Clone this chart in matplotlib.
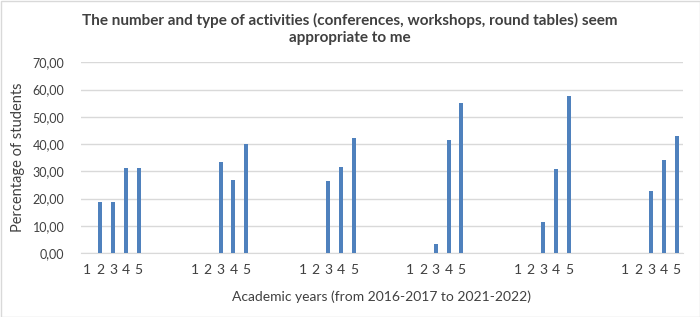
import matplotlib.pyplot as plt
import matplotlib.ticker as ticker
from matplotlib.patches import Rectangle

plt.rcParams["font.family"] = ["Lato", "DejaVu Sans"]

# answers 1..5 for each academic year (2016-2017 ... 2021-2022), % of students
answers = [1, 2, 3, 4, 5]
year_2016 = [0, 18.75, 18.75, 31.25, 31.25]
year_2017 = [0, 0, 33.33, 26.67, 40.00]
year_2018 = [0, 0, 26.32, 31.58, 42.11]
year_2019 = [0, 0, 3.45, 41.38, 55.17]
year_2020 = [0, 0, 11.54, 30.77, 57.69]
year_2021 = [0, 0, 22.86, 34.29, 42.86]
years = [year_2016, year_2017, year_2018, year_2019, year_2020, year_2021]

title = "The number and type of activities (conferences, workshops, round tables) seem\nappropriate to me"
y_ticks = [0, 10, 20, 30, 40, 50, 60, 70]

group_step = 8.4
bar_color = "#4F81BD"
text_color = "#404040"

fig = plt.figure(figsize=(7.0, 3.17), dpi=100)
ax = fig.add_axes([81 / 700, 1 - 253 / 317, 602 / 700, (253 - 62.3) / 317])

positions = []
labels = []
for g, vals in enumerate(years):
    xs = [g * group_step + (a - 1) for a in answers]
    ax.bar(xs, vals, width=0.31, color=bar_color, zorder=3)
    positions += xs
    labels += [str(a) for a in answers]

ax.set_xlim(-0.5, 5 * group_step + 4.5)
ax.set_ylim(0, 70)
ax.set_yticks(y_ticks)
ax.yaxis.set_major_formatter(ticker.FuncFormatter(lambda v, p: f"{v:.2f}".replace(".", ",")))
ax.set_xticks(positions)
ax.set_xticklabels(labels)

ax.grid(axis="y", color="#D9D9D9", linewidth=1, zorder=0)
for s in ["top", "right", "left"]:
    ax.spines[s].set_visible(False)
ax.spines["bottom"].set_color("#D9D9D9")
ax.tick_params(axis="both", length=0, colors=text_color)
ax.tick_params(axis="x", pad=8, labelsize=10)
ax.tick_params(axis="y", pad=12, labelsize=9)

ax.set_ylabel("Percentage of students", fontsize=10.5, color=text_color)
ax.yaxis.set_label_coords(-56 / 602, 0.5)
ax.set_xlabel("Academic years (from 2016-2017 to 2021-2022)", fontsize=10, color=text_color)
ax.xaxis.set_label_coords(0.5, -37 / 190.7)

fig.text(0.5, 1 - 29 / 317, title, ha="center", va="center",
         fontsize=11, fontweight="bold", color=text_color, linespacing=1.3)

fig.patches.append(Rectangle((0.5 / 700, 0.5 / 317), 699 / 700, 316 / 317, transform=fig.transFigure,
                             fill=False, edgecolor="#D9D9D9", linewidth=1))

fig.savefig("out.png", dpi=100)
